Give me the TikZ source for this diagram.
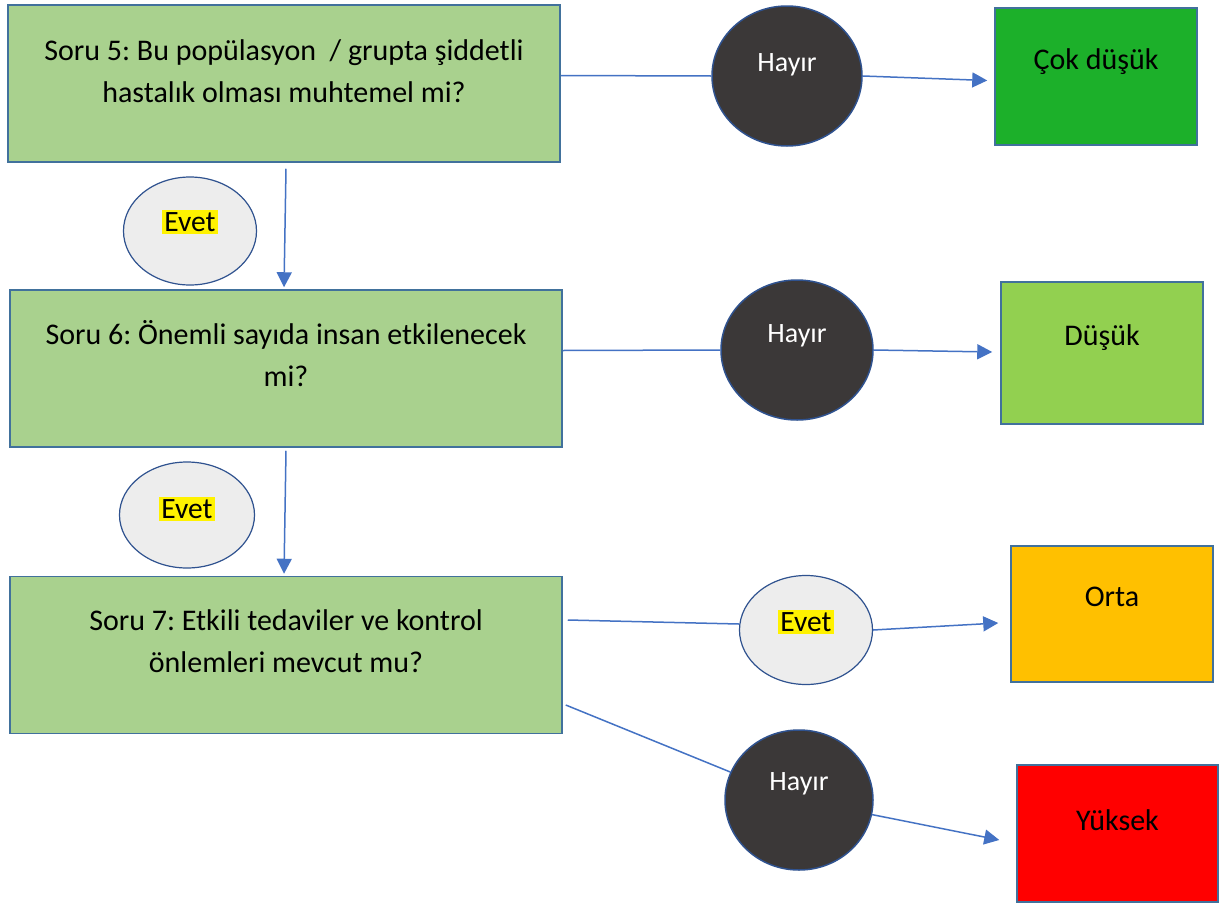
\documentclass[tikz,border=0pt]{standalone}
\usepackage{fontspec}
\setmainfont{Carlito}
\usetikzlibrary{arrows.meta,shapes.geometric}
\definecolor{qgreen}{HTML}{A9D18E}
\definecolor{bordblue}{HTML}{41719C}
\definecolor{arrowblue}{HTML}{4472C4}
\definecolor{cokgreen}{HTML}{1CB02A}
\definecolor{lightgreen}{HTML}{92D050}
\definecolor{orange}{HTML}{FFC000}
\definecolor{hayirfill}{HTML}{3B3838}
\definecolor{evetfill}{HTML}{EDEDED}
\definecolor{ellborder}{HTML}{2F528F}
\frenchspacing
\begin{document}
\begin{tikzpicture}[x=1pt,y=-1pt,
  qbox/.style={draw=bordblue, line width=1.5pt, fill=qgreen, minimum width=552pt, minimum height=157pt, inner sep=0pt},
  rbox/.style={draw=bordblue, line width=1.5pt, minimum width=202pt, minimum height=137pt, inner sep=0pt},
  qtext/.style={align=center, font=\fontsize{30}{42}\selectfont, inner sep=0pt},
  rtext/.style={font=\fontsize{30}{36}\selectfont, inner sep=0pt},
  hayir/.style={ellipse, draw=ellborder, line width=1.5pt, fill=hayirfill, minimum width=150pt, minimum height=140pt, inner sep=0pt},
  evet/.style={ellipse, draw=ellborder, line width=1.2pt, fill=evetfill, minimum width=133pt, minimum height=108pt, inner sep=0pt},
  htext/.style={text=white, font=\fontsize{28}{32}\selectfont, inner sep=0pt},
  etext/.style={font=\fontsize{29.5}{34}\selectfont, inner sep=0pt},
  conn/.style={draw=arrowblue, line width=1.5pt},
  arr/.style={conn, -{Triangle[width=15pt,length=15pt]}}
]
\useasboundingbox (0,0) rectangle (1224,905);
\fill[white] (0,0) rectangle (1224,905);

% question boxes
\node[qbox] (q5) at (284,83.5) {};
\node[qtext] (q5t) at (284,71) {Soru 5: Bu popülasyon \ / grupta şiddetli\\hastalık olması muhtemel mi?};
\node[qbox] (q6) at (286,368.5) {};
\node[qtext] (q6t) at (286,354) {Soru 6: Önemli sayıda insan etkilenecek\\mi?};
\node[qbox] (q7) at (286,655) {};
\node[qtext] (q7t) at (286,641) {Soru 7: Etkili tedaviler ve kontrol\\önlemleri mevcut mu?};

% result boxes
\node[rbox, fill=cokgreen] (r1) at (1096,76.5) {};
\node[rtext] (r1t) at (1096,62) {Çok düşük};
\node[rbox, fill=lightgreen, minimum height=142pt] (r2) at (1102,353) {};
\node[rtext] (r2t) at (1102,338) {Düşük};
\node[rbox, fill=orange, minimum height=136pt] (r3) at (1112,614) {};
\node[rtext] (r3t) at (1112,597) {Orta};
\node[rbox, fill=red, minimum width=201pt] (r4) at (1117.5,833.5) {};
\node[rtext] (r4t) at (1117.5,820) {Yüksek};

% ellipses
\node[hayir] (h1) at (787,76) {};
\node[htext] (h1t) at (787,65) {Hayır};
\node[hayir, minimum width=152pt] (h2) at (797,350) {};
\node[htext] (h2t) at (797,336) {Hayır};
\node[hayir, minimum width=148pt] (h3) at (799,800) {};
\node[htext] (h3t) at (799,784) {Hayır};

\node[evet] (e1) at (190,231) {};
\node[etext] (e1t) at (190,222) {\setlength{\fboxsep}{2pt}\colorbox{yellow}{Evet}};
\node[evet, minimum width=135pt, minimum height=106pt] (e2) at (187,515) {};
\node[etext] (e2t) at (187,509) {\setlength{\fboxsep}{2pt}\colorbox{yellow}{Evet}};
\node[evet, minimum width=133pt, minimum height=109pt] (e3) at (806,630) {};
\node[etext] (e3t) at (806,622) {\setlength{\fboxsep}{2pt}\colorbox{yellow}{Evet}};

% connectors
\draw[conn] ([yshift=8pt]q5.east) -- (h1.west);
\draw[arr] (h1.east) -- ([xshift=-7pt,yshift=-4pt]r1.west);
\draw[arr] ([xshift=2pt,yshift=-6pt]q5.south) -- ([xshift=-2pt,yshift=2pt]q6.north);

\draw[conn] ([yshift=18pt]q6.east) -- (h2.west);
\draw[arr] (h2.east) -- ([xshift=-8pt,yshift=1pt]r2.west);
\draw[arr] ([yshift=-3pt]q6.south) -- ([xshift=-2pt,yshift=2pt]q7.north);

\draw[conn] ([xshift=5pt,yshift=35pt]q7.east) -- ([yshift=6pt]e3.west);
\draw[arr] (e3.east) -- ([xshift=-12pt,yshift=-9pt]r3.west);
\draw[conn] ([xshift=3pt,yshift=-50pt]q7.east) -- (h3);
\draw[arr] (h3) -- ([xshift=-17pt,yshift=-6.5pt]r4.west);
\end{tikzpicture}
\end{document}
